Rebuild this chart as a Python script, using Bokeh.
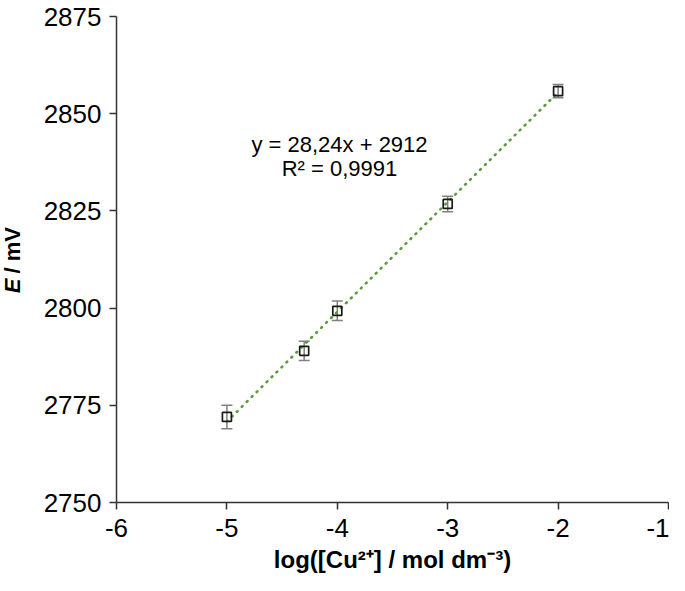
from math import pi
from bokeh.plotting import figure
from bokeh.layouts import row
from bokeh.models import Whisker, ColumnDataSource, Label, FixedTicker, TeeHead
from bokeh.core.properties import value
from bokeh.embed import file_html
from bokeh.resources import INLINE

log_c = [-5.0, -4.3, -4.0, -3.0, -2.0]
potential = [2772, 2789, 2799.3, 2826.8, 2855.8]
error = [3.0, 2.5, 2.5, 2.0, 1.7]
slope = 28.24
intercept = 2912
eq_text = "y = 28,24x + 2912"
r2_text = "R² = 0,9991"
x_ticks = [-6, -5, -4, -3, -2, -1]
x_tick_labels = ["-6", "-5", "-4", "-3", "-2", "-1"]
y_ticks = [2750, 2775, 2800, 2825, 2850, 2875]
y_label_parts = ["E", "/ mV"]

FONT = "Liberation Sans"
H = 575
LW = 26

# narrow strip holding the y-axis title (bold italic E + bold "/ mV")
side = figure(width=LW, height=H, output_backend="svg", toolbar_location=None,
              x_range=(0, 1), y_range=(0, H), min_border=0)
side.axis.visible = False
side.grid.grid_line_color = None
side.outline_line_color = None
side.background_fill_color = "white"
side.border_fill_color = "white"
side.text(x=[0.48], y=[265], text=[y_label_parts[0]], angle=pi / 2,
          text_align="right", text_baseline="middle", text_font=value(FONT),
          text_font_size="22px", text_font_style="bold italic", text_color="black")
side.text(x=[0.48], y=[271], text=[y_label_parts[1]], angle=pi / 2,
          text_align="left", text_baseline="middle", text_font=value(FONT),
          text_font_size="22px", text_font_style="bold", text_color="black")

p = figure(width=669 - LW, height=H, output_backend="svg", toolbar_location=None,
           x_range=(-6, -1), y_range=(2750, 2875),
           min_border_left=116 - LW, min_border_right=1, min_border_top=16, min_border_bottom=60)
p.outline_line_color = None
p.xgrid.grid_line_color = None
p.ygrid.grid_line_color = None
p.background_fill_color = "white"
p.border_fill_color = "white"

for ax in (p.xaxis[0], p.yaxis[0]):
    ax.axis_line_color = "#333333"
    ax.axis_line_width = 1.5
    ax.major_tick_line_color = "#333333"
    ax.major_tick_line_width = 1.5
    ax.major_tick_out = 7
    ax.major_tick_in = 0
    ax.minor_tick_line_color = None
    ax.major_label_text_font = FONT
    ax.major_label_text_font_size = "26px"
    ax.major_label_text_color = "black"

p.xaxis[0].ticker = FixedTicker(ticks=x_ticks)
p.xaxis[0].major_label_overrides = {t: s for t, s in zip(x_ticks, x_tick_labels)}
p.yaxis[0].ticker = FixedTicker(ticks=y_ticks)
p.xaxis[0].major_label_standoff = 9
p.yaxis[0].major_label_standoff = 8

p.xaxis[0].axis_label = "log([Cu²⁺] / mol dm⁻³)"
p.xaxis[0].axis_label_text_font = FONT
p.xaxis[0].axis_label_text_font_style = "bold"
p.xaxis[0].axis_label_text_font_size = "24px"
p.xaxis[0].axis_label_text_color = "black"
p.xaxis[0].axis_label_standoff = 6

# trendline
tx = [min(log_c), max(log_c)]
ty = [slope * v + intercept for v in tx]
p.line(tx, ty, line_color="#5b9b3b", line_width=2.6, line_dash="1 6", line_cap="round")

src = ColumnDataSource(dict(x=log_c, y=potential,
                            lo=[v - e for v, e in zip(potential, error)],
                            hi=[v + e for v, e in zip(potential, error)]))
w = Whisker(source=src, base="x", upper="hi", lower="lo", line_color="#808080", line_width=1.5,
            upper_head=TeeHead(size=11, line_color="#808080", line_width=1.5),
            lower_head=TeeHead(size=11, line_color="#808080", line_width=1.5))
p.add_layout(w)
p.scatter("x", "y", source=src, marker="square", size=9, fill_color=None,
          line_color="#1a1a1a", line_width=1.7)

p.add_layout(Label(x=-3.98, y=2842, text=eq_text, text_align="center", text_baseline="middle",
                   text_font=FONT, text_font_size="22px", text_color="black"))
p.add_layout(Label(x=-3.98, y=2836, text=r2_text, text_align="center", text_baseline="middle",
                   text_font=FONT, text_font_size="22px", text_color="black"))

layout = row(side, p, spacing=0)
open("out.html", "w").write(file_html(layout, INLINE))
